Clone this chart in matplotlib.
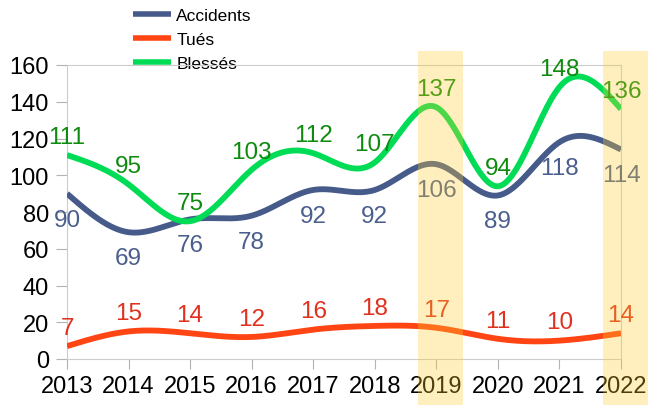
import numpy as np
import matplotlib
matplotlib.use("Agg")
import matplotlib.pyplot as plt
from matplotlib.patches import Rectangle
from matplotlib.transforms import blended_transform_factory

years = [2013, 2014, 2015, 2016, 2017, 2018, 2019, 2020, 2021, 2022]
accidents = [90, 69, 76, 78, 92, 92, 106, 89, 118, 114]
tues = [7, 15, 14, 12, 16, 18, 17, 11, 10, 14]
blesses = [111, 95, 75, 103, 112, 107, 137, 94, 148, 136]
highlight_years = [2019, 2022]
series_names = ["Accidents", "Tués", "Blessés"]
y_ticks = [0, 20, 40, 60, 80, 100, 120, 140, 160]

plt.rcParams['font.family'] = ['Liberation Sans', 'DejaVu Sans']


def natural_spline(x, y, n=600):
    x = np.asarray(x, float)
    y = np.asarray(y, float)
    h = np.diff(x)
    m = len(x)
    A = np.zeros((m - 2, m - 2))
    r = np.zeros(m - 2)
    for i in range(m - 2):
        A[i, i] = 2 * (h[i] + h[i + 1])
        if i + 1 < m - 2:
            A[i, i + 1] = h[i + 1]
            A[i + 1, i] = h[i + 1]
        r[i] = 6 * ((y[i + 2] - y[i + 1]) / h[i + 1] - (y[i + 1] - y[i]) / h[i])
    M = np.zeros(m)
    M[1:-1] = np.linalg.solve(A, r)
    xs = np.linspace(x[0], x[-1], n)
    idx = np.clip(np.searchsorted(x, xs) - 1, 0, m - 2)
    x0, x1 = x[idx], x[idx + 1]
    hh = x1 - x0
    a = (x1 - xs) / hh
    b = (xs - x0) / hh
    ys = (a * y[idx] + b * y[idx + 1]
          + ((a ** 3 - a) * M[idx] + (b ** 3 - b) * M[idx + 1]) * hh ** 2 / 6)
    return xs, ys


fig = plt.figure(figsize=(6.52, 4.06), dpi=100)
ax = fig.add_axes([67 / 652, 1 - 360 / 406, (621 - 67) / 652, (360 - 66) / 406])

line_colors = ["#475B8B", "#FF4513", "#00DC55"]
label_colors = ["#4A5E8E", "#E0301E", "#0E8A0E"]
datasets = [accidents, tues, blesses]
below = [True, False, False]

for name, data, lc, tc, bl in zip(series_names, datasets, line_colors, label_colors, below):
    xs, ys = natural_spline(years, data)
    ax.plot(xs, ys, color=lc, lw=4.2, solid_capstyle='butt', label=name, zorder=3)
    for x, v in zip(years, data):
        off = -23 if bl else 8.8
        ax.annotate(str(v), (x, v), xytext=(0, off), textcoords='offset points',
                    ha='center', va='baseline', fontsize=17.5, color=tc, zorder=4,
                    annotation_clip=False)

ax.set_xlim(2013, 2022)
ax.set_ylim(0, 160)
ax.set_xticks(years)
ax.set_xticklabels([str(y) for y in years])
ax.set_yticks(y_ticks)
ax.tick_params(axis='both', colors='#B3B3B3', labelcolor='black', labelsize=17,
               width=0.8)
ax.tick_params(axis='y', length=8, pad=5)
ax.tick_params(axis='x', length=7.5, pad=4)
for sp in ax.spines.values():
    sp.set_color('#CCCCCC')
    sp.set_linewidth(0.8)

trans = blended_transform_factory(ax.transData, fig.transFigure)
for hy in highlight_years:
    rect = Rectangle((hy - 0.3, 0), 0.74, 1 - 52 / 406, transform=trans,
                     facecolor='#FFCD2D', alpha=0.3, edgecolor='none',
                     zorder=10, clip_on=False)
    ax.add_patch(rect)

leg = ax.legend(loc='upper left', bbox_to_anchor=(133 / 652, 1 - 9 / 406),
                bbox_transform=fig.transFigure, frameon=False, fontsize=12.5,
                handlelength=2.2, handletextpad=0.3, labelspacing=0.5,
                borderpad=0, borderaxespad=0)
for h in leg.get_lines():
    h.set_linewidth(4)
leg.set_zorder(2)

fig.savefig('out.png', dpi=100)
